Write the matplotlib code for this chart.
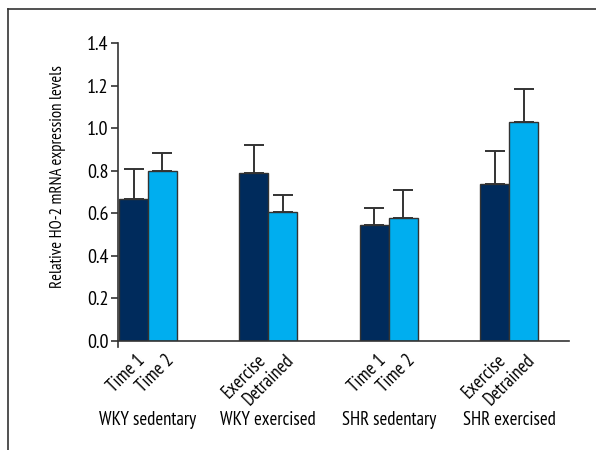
import matplotlib
matplotlib.use("Agg")
import matplotlib.pyplot as plt
import numpy as np
from matplotlib.lines import Line2D
import matplotlib.transforms as mtransforms

plt.rcParams['font.family'] = ['PT Sans Narrow', 'DejaVu Sans']

groups = ["WKY sedentary", "WKY exercised", "SHR sedentary", "SHR exercised"]
first_labels = ["Time 1", "Exercise", "Time 1", "Exercise"]
second_labels = ["Time 2", "Detrained", "Time 2", "Detrained"]
first_vals = [0.667, 0.789, 0.545, 0.737]
first_err = [0.141, 0.131, 0.080, 0.155]
second_vals = [0.800, 0.606, 0.578, 1.029]
second_err = [0.083, 0.080, 0.131, 0.155]
yticks = [0.0, 0.2, 0.4, 0.6, 0.8, 1.0, 1.2, 1.4]

dark = "#002b5c"
light = "#00aeef"
edge = "#333333"

fig = plt.figure(figsize=(5.96, 4.5), dpi=100)
ax = fig.add_axes([118/596, 1-341/450, (569-118)/596, (341-43)/450])

x = np.arange(len(groups))
w = 0.24
ax.bar(x - w/2, first_vals, w, color=dark, edgecolor=edge, linewidth=1.0, zorder=2)
ax.bar(x + w/2, second_vals, w, color=light, edgecolor=edge, linewidth=1.0, zorder=2)
ax.errorbar(x - w/2, first_vals, yerr=[np.zeros(4), first_err], fmt='none',
            ecolor=edge, elinewidth=1.4, capsize=7, capthick=1.4, zorder=1)
ax.errorbar(x + w/2, second_vals, yerr=[np.zeros(4), second_err], fmt='none',
            ecolor=edge, elinewidth=1.4, capsize=7, capthick=1.4, zorder=1)

ax.set_xlim(-0.249, 3.498)
ax.set_ylim(0, 1.4)
ax.set_yticks(yticks)
ax.set_yticklabels([f"{v:.1f}" for v in yticks], fontsize=14.5)
ax.tick_params(axis='y', direction='out', length=5, width=1.2, color=edge, pad=2)
for s in ['top', 'right']:
    ax.spines[s].set_visible(False)
for s in ['left', 'bottom']:
    ax.spines[s].set_color(edge)
    ax.spines[s].set_linewidth(1.2)

tick_pos = np.concatenate([x - w/2, x + w/2])
tick_lab = first_labels + second_labels
ax.set_xticks(tick_pos)
ax.set_xticklabels(tick_lab, rotation=45, ha='right', va='center',
                   rotation_mode='anchor', fontsize=13.5)
ax.tick_params(axis='x', length=0, pad=12)
offset = mtransforms.ScaledTranslation(9/100, 0, fig.dpi_scale_trans)
for lab in ax.get_xticklabels():
    lab.set_transform(lab.get_transform() + offset)

# small tick below origin
ax.plot([-0.249, -0.249], [0, -0.03], color=edge, lw=1.2, clip_on=False)

trans = mtransforms.blended_transform_factory(ax.transData, fig.transFigure)
for xi, g in zip(x, groups):
    ax.text(xi, 1-420/450, g, transform=trans, ha='center', va='center', fontsize=13.5)

fig.text(58/596, 1-177/450, "Relative HO-2 mRNA expression levels", rotation=90,
         ha='center', va='center', fontsize=12)

# frame lines
fig.add_artist(Line2D([8/596, 1], [1-9/450, 1-9/450], transform=fig.transFigure, color=edge, lw=1.2))
fig.add_artist(Line2D([8/596, 8/596], [0, 1-9/450], transform=fig.transFigure, color=edge, lw=1.2))

fig.savefig("out.png", dpi=100)
